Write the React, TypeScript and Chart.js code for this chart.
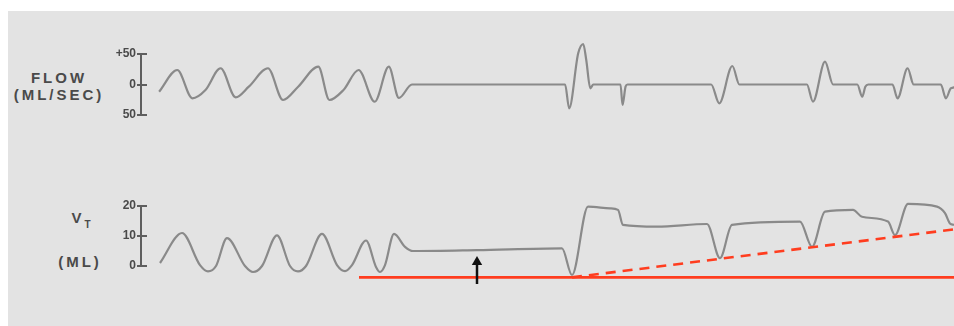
import React, { useEffect, useRef } from 'react';
import { Chart, registerables } from 'chart.js';

Chart.register(...registerables);

// time axis (arbitrary chart-paper units)
const T_MIN = -0.2;
const T_MAX = 81.1;

// FLOW trace (ml/sec)
const FLOW_T = [
  1.6, 3.4, 4.9, 6.2, 7.7, 9.2, 10.5, 12.4, 13.9, 15.4, 17.4, 18.5, 19.9, 21.4, 23.0, 24.4, 25.4, 26.7,
  41.0, 41.9, 42.3, 43.2, 43.7, 44.0, 44.4, 44.7, 47.4, 47.6, 47.9, 48.1, 56.4, 57.2, 58.5, 59.2,
  65.9, 66.5, 67.7, 68.5, 70.9, 71.4, 71.7, 72.0, 74.4, 74.9, 75.9, 76.5, 79.2, 79.7, 80.2, 81.1,
];
const FLOW_MLS = [
  -11.8, 23.8, -22.6, -9.0, 26.6, -21.0, -3.6, 26.6, -25.4, -3.6, 29.2, -25.4, -9.0, 23.8, -28.2, 29.2, -22.1, 0,
  0, 0, -39, 51.1, 66.4, 40.2, -6.2, 0, 0, -33.6, -3.6, 0, 0, -30.8, 30.3, 0,
  0, -28.2, 37.4, 0, 0, -20, -3.6, 0, 0, -22.6, 26.6, 0, 0, -22.6, -6.2, -3.6,
];

// TIDAL VOLUME trace (ml)
const VOL_T = [
  1.7, 3.9, 5.7, 6.5, 7.3, 8.4, 10.2, 11.0, 11.9, 13.4, 14.7, 15.5, 16.3, 17.9, 19.4, 20.2, 20.9, 22.3,
  23.3, 23.7, 24.2, 25.1, 26.2, 27.0, 33.4, 41.9, 42.9, 44.5, 46.7, 47.5, 48.0, 51.4, 56.4, 57.7, 58.9,
  65.7, 66.9, 68.2, 71.0, 71.9, 74.5, 75.2, 76.5, 79.4, 80.2, 80.7, 81.1,
];
const VOL_ML = [
  1.0, 11.0, 0.3, -1.8, 0, 9.3, 0, -2.0, 0, 10.2, 0, -1.8, 0, 10.7, 0.3, -1.7, 0.3, 8.5,
  -0.3, -2.0, 0.3, 10.7, 6.4, 5.0, 5.3, 5.9, -3.0, 19.8, 19.2, 18.7, 13.7, 13.1, 14.0, 2.6, 13.7,
  14.8, 6.4, 18.1, 18.7, 16.4, 14.8, 10.3, 20.7, 19.8, 17.6, 14.2, 13.7,
];

// annotations (ml)
const BASELINE_T = [21.6, 81.1];
const BASELINE_ML = [-3.8, -3.8];
const TREND_T = [42.9, 81.1];
const TREND_ML = [-3.8, 12.2];
const ARROW_T = [33.4, 33.4];
const ARROW_ML = [-6.0, 1.0];
const ARROW_HEAD_T = [33.4];
const ARROW_HEAD_ML = [1.33];

// axes
const FLOW_MIN = -50;
const FLOW_MAX = 50;
const FLOW_TICKS = [-50, 0, 50];
const FLOW_TICK_LABELS = ['50', '0', '+50'];
const VOL_MIN = 0;
const VOL_MAX = 20;
const VOL_TICKS = [0, 10, 20];
const VOL_TICK_LABELS = ['0', '10', '20'];

const TRACE = '#8a8a8a';
const AXIS = '#5e5e5e';
const TEXT = '#4a4a4a';
const RED = '#ff3d1f';
const W = 954;
const H = 326;
const CW = 960; // canvas slightly wider so the plot area ends at the page edge

const pts = (xs: number[], ys: number[]) => xs.map((x, i) => ({ x, y: ys[i] }));

const bracketTicks = {
  id: 'bracketTicks',
  afterDraw(chart: any) {
    const s = chart.scales.y;
    const ctx = chart.ctx;
    ctx.save();
    ctx.strokeStyle = AXIS;
    ctx.lineWidth = 2;
    s.ticks.forEach((t: any) => {
      const y = Math.round(s.getPixelForValue(t.value));
      ctx.beginPath();
      ctx.moveTo(s.right, y);
      ctx.lineTo(s.right + 6, y);
      ctx.stroke();
    });
    ctx.restore();
  },
};

function makeOptions(min: number, max: number, ticks: number[], labels: string[], padTop: number, padBottom: number) {
  return {
    responsive: false,
    maintainAspectRatio: false,
    animation: false as const,
    devicePixelRatio: 1,
    layout: { padding: { left: 0, right: 0, top: padTop, bottom: padBottom } },
    plugins: { legend: { display: false }, tooltip: { enabled: false } },
    elements: { point: { radius: 0 } },
    scales: {
      x: { type: 'linear' as const, min: T_MIN, max: T_MAX, display: false },
      y: {
        type: 'linear' as const,
        min,
        max,
        afterBuildTicks: (scale: any) => {
          scale.ticks = ticks.map((v) => ({ value: v }));
        },
        afterFit: (scale: any) => {
          scale.width = 141;
        },
        ticks: {
          color: TEXT,
          padding: 1,
          font: { family: "'Liberation Sans', Arial, sans-serif", size: 12, weight: 'bold' as const },
          callback: (v: any) => {
            const i = ticks.indexOf(Number(v));
            return i >= 0 ? labels[i] : '';
          },
        },
        grid: { drawOnChartArea: false, drawTicks: true, tickLength: 4, color: AXIS, lineWidth: 2 },
        border: { display: true, color: AXIS, width: 2 },
      },
    },
  };
}

function App() {
  const flowRef = useRef<HTMLCanvasElement | null>(null);
  const volRef = useRef<HTMLCanvasElement | null>(null);

  useEffect(() => {
    const flowChart = new Chart(flowRef.current as HTMLCanvasElement, {
      type: 'line',
      data: {
        datasets: [
          {
            data: pts(FLOW_T, FLOW_MLS),
            borderColor: TRACE,
            borderWidth: 2.2,
            cubicInterpolationMode: 'monotone',
            pointRadius: 0,
            clip: false as any,
          },
        ],
      },
      options: makeOptions(FLOW_MIN, FLOW_MAX, FLOW_TICKS, FLOW_TICK_LABELS, 54, H - 115) as any,
      plugins: [bracketTicks],
    });

    const volChart = new Chart(volRef.current as HTMLCanvasElement, {
      type: 'line',
      data: {
        datasets: [
          {
            data: pts(ARROW_HEAD_T, ARROW_HEAD_ML),
            showLine: false,
            pointRadius: 6,
            pointStyle: 'triangle',
            pointBackgroundColor: '#111',
            pointBorderColor: '#111',
            pointBorderWidth: 0,
            clip: false as any,
            order: 0,
          },
          {
            data: pts(ARROW_T, ARROW_ML),
            borderColor: '#111',
            borderWidth: 2.5,
            pointRadius: 0,
            clip: false as any,
            order: 0,
          },
          {
            data: pts(TREND_T, TREND_ML),
            borderColor: RED,
            borderWidth: 2.6,
            borderDash: [10, 7],
            pointRadius: 0,
            clip: false as any,
            order: 1,
          },
          {
            data: pts(BASELINE_T, BASELINE_ML),
            borderColor: RED,
            borderWidth: 2.8,
            pointRadius: 0,
            clip: false as any,
            order: 1,
          },
          {
            data: pts(VOL_T, VOL_ML),
            borderColor: TRACE,
            borderWidth: 2.2,
            cubicInterpolationMode: 'monotone',
            pointRadius: 0,
            clip: false as any,
            order: 2,
          },
        ],
      },
      options: makeOptions(VOL_MIN, VOL_MAX, VOL_TICKS, VOL_TICK_LABELS, 206, H - 266) as any,
      plugins: [bracketTicks],
    });

    return () => {
      flowChart.destroy();
      volChart.destroy();
    };
  }, []);

  const labelFont: React.CSSProperties = {
    position: 'absolute',
    fontFamily: "'Liberation Sans', Arial, sans-serif",
    fontWeight: 'bold',
    fontSize: 15,
    lineHeight: '15px',
    letterSpacing: 3,
    color: TEXT,
    whiteSpace: 'nowrap',
    textAlign: 'center',
  };

  return (
    <div style={{ position: 'absolute', left: 0, top: 0, width: W, height: H, background: '#ffffff', overflow: 'hidden' }}>
      <div style={{ position: 'absolute', left: 8, top: 11, right: 0, bottom: 0, background: '#e3e3e3' }} />
      <div style={{ ...labelFont, left: 4, top: 70, width: 110 }}>FLOW</div>
      <div style={{ ...labelFont, left: 4, top: 87, width: 110 }}>(ML/SEC)</div>
      <div style={{ ...labelFont, left: 31, top: 210, width: 100 }}>
        V<span style={{ fontSize: 10, position: 'relative', top: 5, letterSpacing: 0 }}>T</span>
      </div>
      <div style={{ ...labelFont, left: 30, top: 254, width: 100 }}>(ML)</div>
      <canvas ref={flowRef} width={CW} height={H} style={{ position: 'absolute', left: 0, top: 0, width: CW, height: H }} />
      <canvas ref={volRef} width={CW} height={H} style={{ position: 'absolute', left: 0, top: 0, width: CW, height: H }} />
    </div>
  );
}

export default App;
